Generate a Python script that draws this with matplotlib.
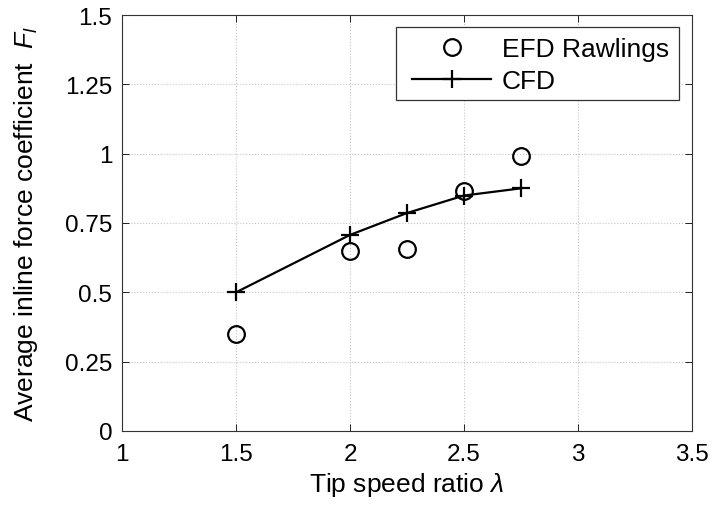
import matplotlib
matplotlib.use("Agg")
import matplotlib.pyplot as plt
from matplotlib.patches import Rectangle

plt.rcParams['font.family'] = ['Liberation Sans', 'DejaVu Sans']
plt.rcParams['mathtext.fontset'] = 'custom'
plt.rcParams['mathtext.it'] = 'Liberation Sans:italic'
plt.rcParams['mathtext.rm'] = 'Liberation Sans'

efd_x = [1.5, 2.0, 2.25, 2.5, 2.75]
efd_y = [0.351, 0.650, 0.656, 0.865, 0.993]
cfd_x = [1.5, 2.0, 2.25, 2.5, 2.75]
cfd_y = [0.500, 0.707, 0.786, 0.849, 0.875]

xticks = [1, 1.5, 2, 2.5, 3, 3.5]
xticklabels = ['1', '1.5', '2', '2.5', '3', '3.5']
yticks = [0, 0.25, 0.5, 0.75, 1, 1.25, 1.5]
yticklabels = ['0', '0.25', '0.5', '0.75', '1', '1.25', '1.5']

W, H = 714, 506
fig = plt.figure(figsize=(W / 100, H / 100), dpi=100)
L, R, T, B = 122, 692, 16, 432
ax = fig.add_axes([L / W, (H - B) / H, (R - L) / W, (B - T) / H])

ax.plot(efd_x, efd_y, linestyle='none', marker='o', markersize=12,
        markerfacecolor='none', markeredgecolor='black', markeredgewidth=1.6,
        label='EFD Rawlings')
ax.plot(cfd_x, cfd_y, color='black', linewidth=1.6, marker='+', markersize=13,
        markeredgewidth=1.6, label='CFD')

ax.set_xlim(1, 3.5)
ax.set_ylim(0, 1.5)
ax.set_xticks(xticks)
ax.set_xticklabels(xticklabels)
ax.set_yticks(yticks)
ax.set_yticklabels(yticklabels)
ax.tick_params(direction='in', labelsize=17.5, length=5, width=0.6, top=True, right=True)
ax.tick_params(axis='x', pad=9)
ax.tick_params(axis='y', pad=7)
ax.grid(True, linestyle=':', color='#c4c4c4', linewidth=0.8)
ax.set_axisbelow(True)
for s in ax.spines.values():
    s.set_linewidth(0.8)
    s.set_color('#333333')

ax.set_xlabel(r'Tip speed ratio $\lambda$', fontsize=19, labelpad=3)
ax.set_ylabel(r'Average inline force coefficient  $F_l$', fontsize=19, labelpad=18)

def axfrac(px, py):
    return (px - L) / (R - L), (B - py) / (B - T)

# legend box
bx0, by0 = axfrac(396, 101)
bx1, by1 = axfrac(679, 28)
ax.add_patch(Rectangle((bx0, by0), bx1 - bx0, by1 - by0, transform=ax.transAxes,
                       facecolor='white', edgecolor='#333333', linewidth=0.9, zorder=4))

leg = ax.legend(loc='upper left', bbox_to_anchor=axfrac(412, 38),
                borderaxespad=0, fontsize=19, frameon=False,
                handlelength=3.0, handletextpad=0.4, borderpad=0.0, labelspacing=0.32)
leg.set_zorder(5)

fig.savefig('out.png', dpi=100)
